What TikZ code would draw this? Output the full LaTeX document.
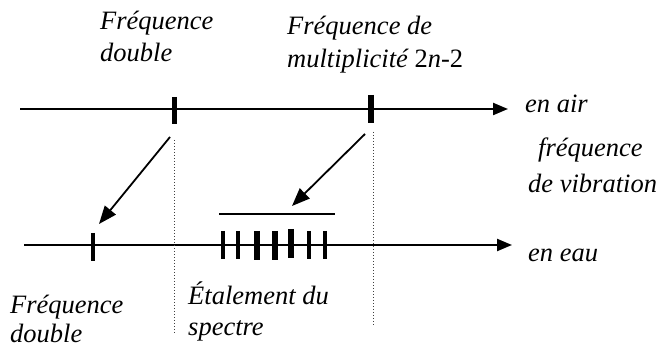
\documentclass[tikz,border=0pt]{standalone}
\usepackage{fontspec}
\setmainfont{LiberationSerif}[Extension=.ttf,UprightFont=*-Regular,ItalicFont=*-Italic]
\usetikzlibrary{arrows.meta}
\begin{document}
\begin{tikzpicture}[x=1pt,y=-1pt,
  lbl/.style={anchor=base west,inner sep=0pt,font=\fontsize{26.5}{32}\selectfont\itshape},
  axisline/.style={line width=2.2pt,-{Triangle[length=15pt,width=12pt]}},
  tick/.style={line width=#1},
  tick/.default=5pt,
  mapto/.style={line width=1.8pt,-{Triangle[length=18pt,width=14pt]}},
  guide/.style={line width=1pt,dotted,black!75}]
\useasboundingbox (0,0) rectangle (664,347);
% top axis
\coordinate (a0) at (20,109);
\coordinate (a1) at (508,109);
\draw[axisline] (a0) -- (a1);
\coordinate (t1a) at (174,97); \coordinate (t1b) at (174,124);
\coordinate (t2a) at (371,95); \coordinate (t2b) at (371,123);
\draw[tick=5pt] (t1a) -- (t1b);
\draw[tick=6pt] (t2a) -- (t2b);
% bottom axis
\coordinate (b0) at (24,245);
\coordinate (b1) at (512,245);
\draw[axisline] (b0) -- (b1);
\coordinate (u0a) at (93,233); \coordinate (u0b) at (93,261);
\draw[tick=4.5pt] (u0a) -- (u0b);
% cluster
\foreach \x/\ya/\yb/\w in {223/231/259/4.5, 238/231/259/4.5, 257/231/260/6, 275/231/260/6, 291/229/258/6, 309/231/259/4.5, 325/231/259/4.5}{
  \draw[tick=\w pt] (\x,\ya) -- (\x,\yb);
}
\coordinate (barL) at (219,214); \coordinate (barR) at (335,214);
\draw[line width=2.5pt] (barL) -- (barR);
% dotted guides
\coordinate (g1a) at (174,140); \coordinate (g1b) at (174,333);
\coordinate (g2a) at (373,132); \coordinate (g2b) at (373,325);
\draw[guide] (g1a) -- (g1b);
\draw[guide] (g2a) -- (g2b);
% arrows
\coordinate (m1s) at (170,137); \coordinate (m1e) at (99,224);
\coordinate (m2s) at (365,134); \coordinate (m2e) at (292,206);
\draw[mapto] (m1s) -- (m1e);
\draw[mapto] (m2s) -- (m2e);
% labels
\node[lbl] (l1) at (100,30) {Fréquence};
\node[lbl] (l2) at (100,62) {double};
\node[lbl] (l3) at (287,35) {Fréquence de};
\node[lbl] (l4) at (287,68) {multiplicité {\upshape 2}n{\upshape -2}};
\node[lbl] (l5) at (525,113) {en air};
\node[lbl] (l6) at (538,157) {fréquence};
\node[lbl] (l7) at (528,193) {de vibration};
\node[lbl] (l8) at (528,262) {en eau};
\node[lbl] (l9) at (10,313) {Fréquence};
\node[lbl] (l10) at (10,342) {double};
\node[lbl] (l11) at (188,305) {Étalement du};
\node[lbl] (l12) at (188,336) {spectre};
\end{tikzpicture}
\end{document}
